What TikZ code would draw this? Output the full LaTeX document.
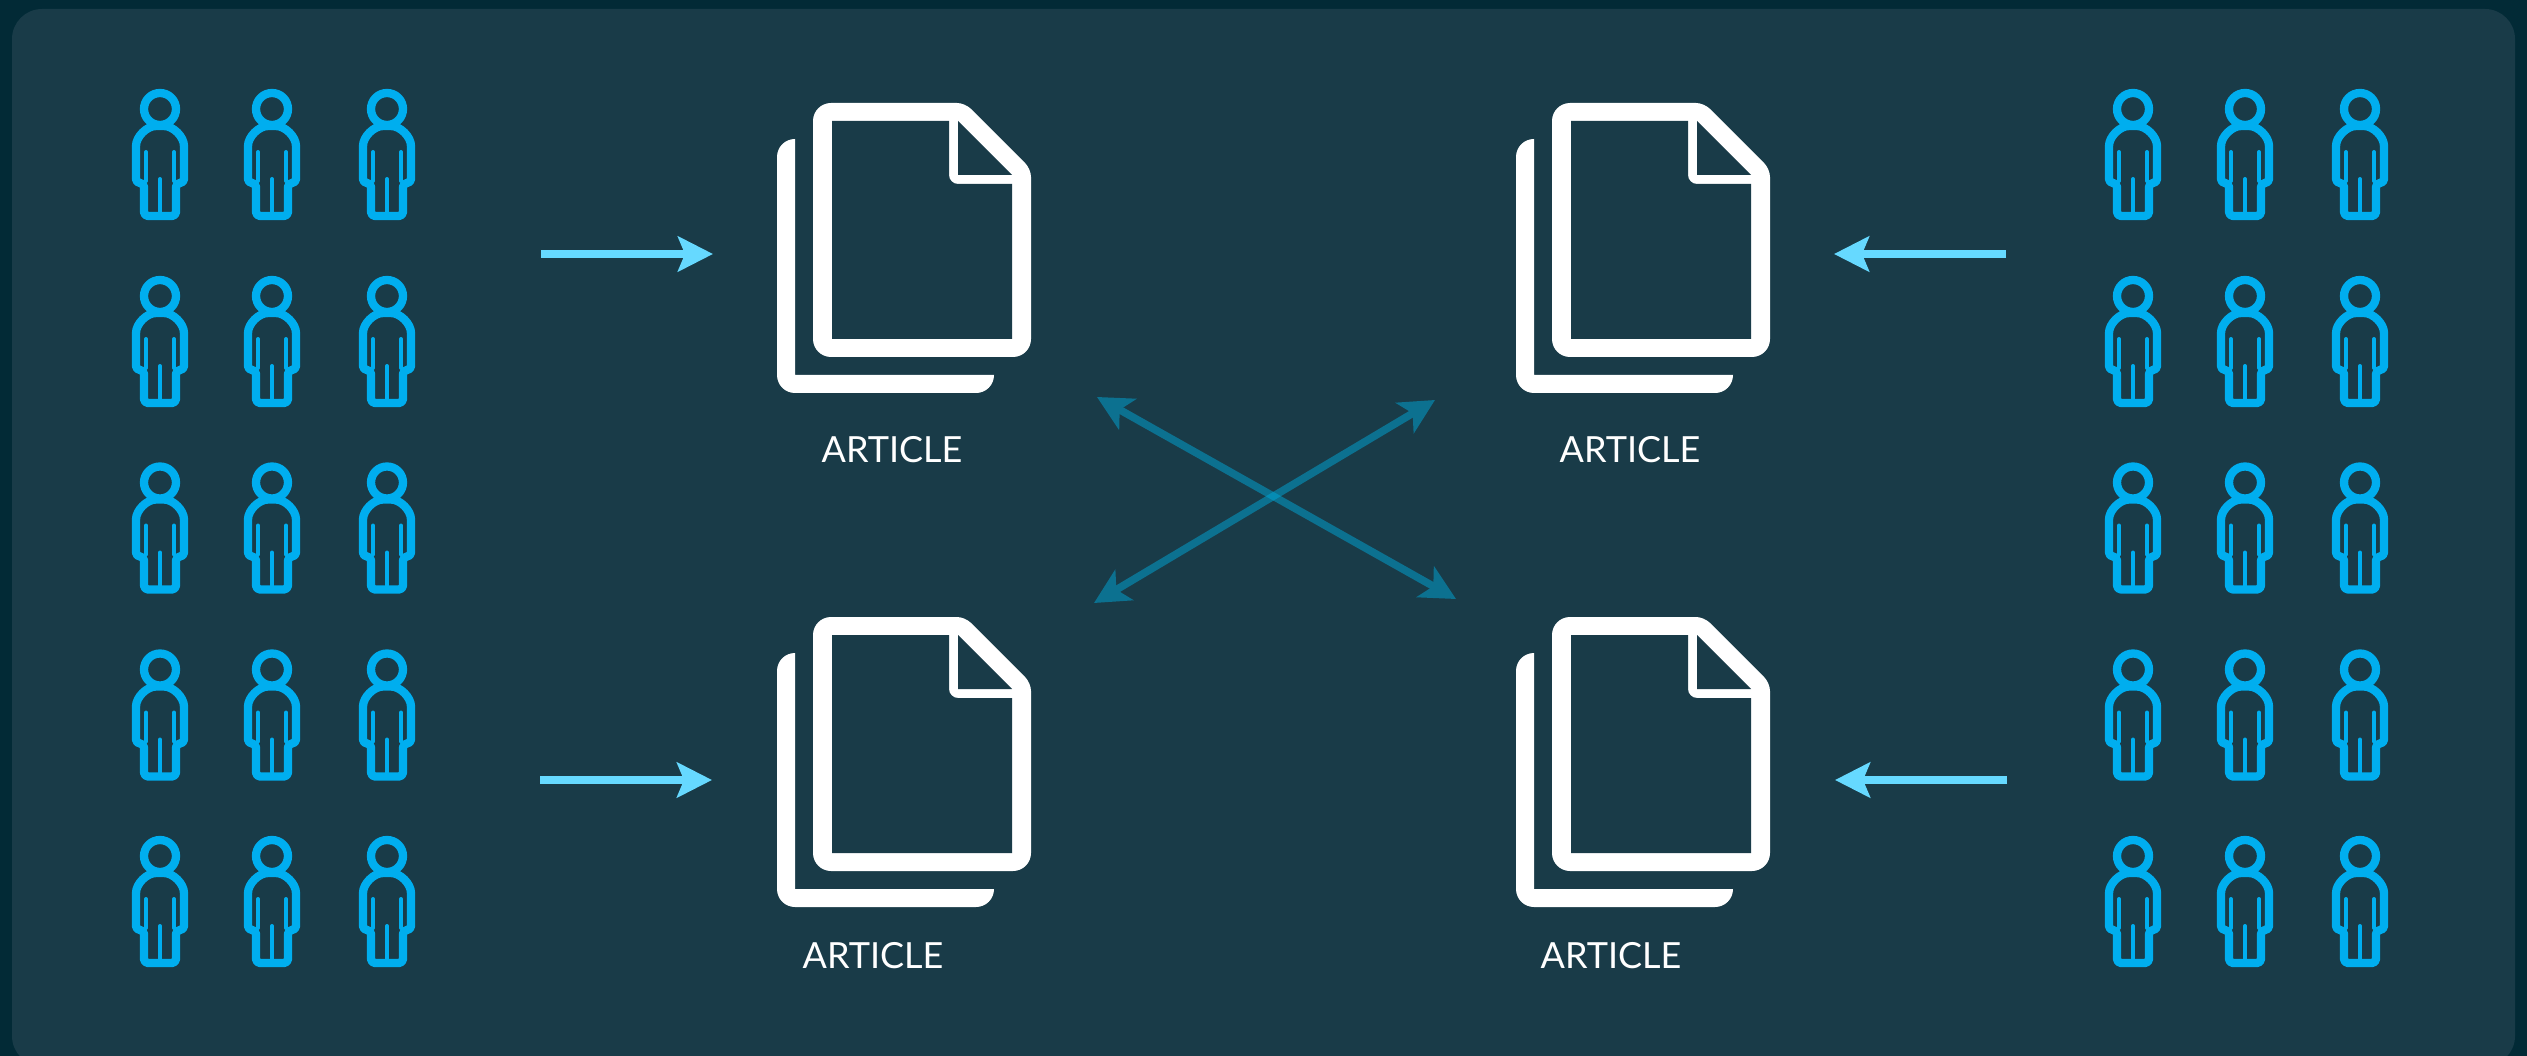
\documentclass[tikz,border=0pt]{standalone}
\usepackage{fontspec}
\setmainfont{Lato}
\usetikzlibrary{arrows.meta}
\definecolor{outerbg}{HTML}{022A36}
\definecolor{panelbg}{HTML}{193B48}
\definecolor{personblue}{HTML}{00AEEF}
\definecolor{crossblue}{HTML}{00A8D8}
\definecolor{arrowlight}{HTML}{66D9FF}
\tikzset{
  x=1pt,y=-1pt,
  personline/.style={draw=personblue,line width=8.3pt,line join=round},
  personlimb/.style={draw=personblue,line width=4pt,line cap=round},
  flowarrow/.style={draw=arrowlight,fill=arrowlight,line width=8pt,-{Stealth[length=35pt,width=35pt,inset=7pt]}},
  crossarrow/.style={draw=crossblue,fill=crossblue,line width=7.6pt,{Stealth[length=35pt,width=35pt,inset=9pt]}-{Stealth[length=35pt,width=35pt,inset=9pt]}},
  labeltext/.style={text=white,font=\fontsize{36}{40}\selectfont,inner sep=0pt},
  person/.pic={
    \draw[personline] (0,0) circle[radius=16pt];
    \draw[personline,rounded corners=4pt] (0,107) -- (-16,107) -- (-16,74) -- (-24,74) -- (-24,41)
      .. controls (-24,27.75) and (-13.25,17) .. (0,17)
      .. controls (13.25,17) and (24,27.75) .. (24,41) -- (24,74) -- (16,74) -- (16,107) -- cycle;
    \draw[personlimb] (-14,43) -- (-14,72);
    \draw[personlimb] (14,43) -- (14,72);
    \draw[personlimb] (0,70) -- (0,105);
  },
  docicon/.pic={
    \fill[white] (-18,36) .. controls (-28,36) and (-36,44) .. (-36,54) -- (-36,272)
      .. controls (-36,282) and (-28,290) .. (-18,290) -- (163,290)
      .. controls (173,290) and (181,282) .. (181,272) -- (-18,272) -- cycle;
    \fill[white,rounded corners=18pt] (0,254) -- (0,0) -- (100,0) [rounded corners=8pt] -- (152,0) -- (218,66) [rounded corners=18pt] -- (218,254) -- cycle;
    \fill[panelbg] (19,18) -- (136,18) -- (136,72)
      .. controls (136,77) and (140,81) .. (145,81) -- (199,81) -- (199,236) -- (19,236) -- cycle;
    \fill[panelbg] (145,18) -- (199,72) -- (145,72) -- cycle;
  },
}
\begin{document}
\begin{tikzpicture}
\useasboundingbox (0,0) rectangle (2527,1056);
\fill[outerbg] (0,0) rectangle (2527,1056);
\fill[panelbg,rounded corners=30pt] (12,9) rectangle (2515,1066);
\foreach \py in {109,296,482.5,669.5,856}{
  \foreach \px in {160,272,387,2133,2245,2360}{
    \pic at (\px,\py) {person};
  }
}
\pic at (813,103) {docicon};
\pic at (1552,103) {docicon};
\pic at (813,617) {docicon};
\pic at (1552,617) {docicon};
\node[labeltext] (labelA) at (892,450) {ARTICLE};
\node[labeltext] (labelB) at (1630,450) {ARTICLE};
\node[labeltext] (labelC) at (873,956) {ARTICLE};
\node[labeltext] (labelD) at (1611,956) {ARTICLE};
\coordinate (fa1) at (541,254); \coordinate (fa2) at (713,254);
\coordinate (fb1) at (540,780); \coordinate (fb2) at (712,780);
\coordinate (fc1) at (2006,254); \coordinate (fc2) at (1834,254);
\coordinate (fd1) at (2007,780); \coordinate (fd2) at (1835,780);
\draw[flowarrow] (fa1) -- (fa2);
\draw[flowarrow] (fb1) -- (fb2);
\draw[flowarrow] (fc1) -- (fc2);
\draw[flowarrow] (fd1) -- (fd2);
\coordinate (xa1) at (1097,397); \coordinate (xa2) at (1456,599);
\coordinate (xb1) at (1094,603); \coordinate (xb2) at (1435,400);
\begin{scope}[transparency group,opacity=.5]
\draw[crossarrow] (xa1) -- (xa2);
\end{scope}
\begin{scope}[transparency group,opacity=.5]
\draw[crossarrow] (xb1) -- (xb2);
\end{scope}
\end{tikzpicture}
\end{document}
